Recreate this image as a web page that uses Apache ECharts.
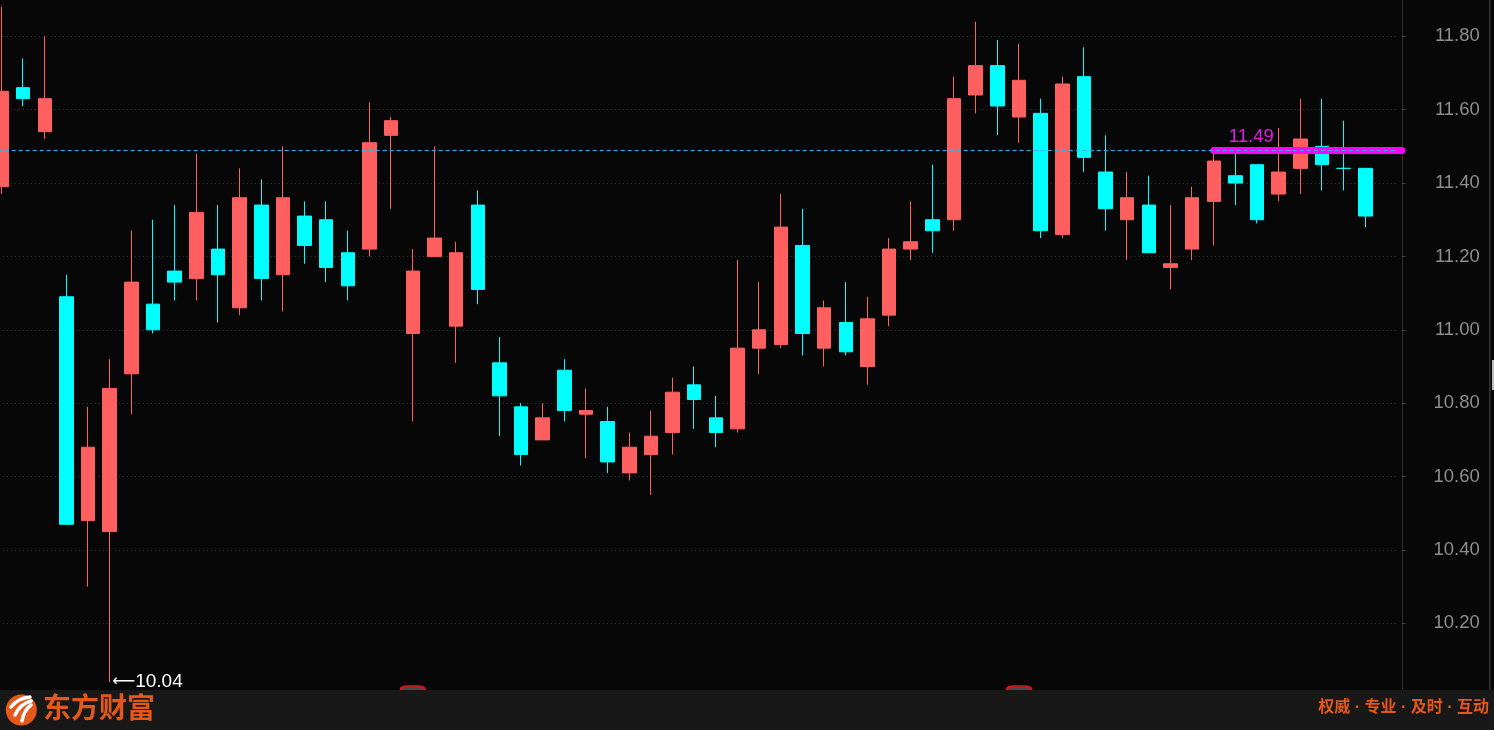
<!DOCTYPE html>
<html>
<head>
<meta charset="utf-8">
<script src="https://cdn.jsdelivr.net/npm/echarts@6/dist/echarts.min.js"></script>
<style>
html,body{margin:0;padding:0;background:#070707;}
#chart{width:1494px;height:730px;}
</style>
</head>
<body>
<div id="chart"></div>
<script>
// ---- data ----
const openPrices  = [11.39,11.66,11.54,11.09,10.48,10.45,10.88,11.07,11.16,11.14,11.22,11.06,11.34,11.15,11.31,11.30,11.21,11.22,11.53,10.99,11.20,11.01,11.34,10.91,10.79,10.70,10.89,10.77,10.75,10.61,10.66,10.72,10.85,10.76,10.73,10.95,10.96,11.23,10.95,11.02,10.90,11.04,11.22,11.30,11.30,11.64,11.72,11.58,11.59,11.26,11.69,11.43,11.30,11.34,11.17,11.22,11.35,11.42,11.45,11.37,11.44,11.50,11.44,11.44];
const closePrices = [11.65,11.63,11.63,10.47,10.68,10.84,11.13,11.00,11.13,11.32,11.15,11.36,11.14,11.36,11.23,11.17,11.12,11.51,11.57,11.16,11.25,11.21,11.11,10.82,10.66,10.76,10.78,10.78,10.64,10.68,10.71,10.83,10.81,10.72,10.95,11.00,11.28,10.99,11.06,10.94,11.03,11.22,11.24,11.27,11.63,11.72,11.61,11.68,11.27,11.67,11.47,11.33,11.36,11.21,11.18,11.36,11.46,11.40,11.30,11.43,11.52,11.45,11.44,11.31];
const lowPrices   = [11.37,11.61,11.52,10.47,10.30,10.04,10.77,10.99,11.08,11.08,11.02,11.04,11.08,11.05,11.18,11.13,11.08,11.20,11.33,10.75,11.20,10.91,11.07,10.71,10.63,10.70,10.75,10.65,10.61,10.59,10.55,10.66,10.73,10.68,10.72,10.88,10.95,10.93,10.90,10.93,10.85,11.01,11.19,11.21,11.27,11.59,11.53,11.51,11.25,11.25,11.43,11.27,11.19,11.21,11.11,11.19,11.23,11.34,11.29,11.35,11.37,11.38,11.38,11.28];
const highPrices  = [11.88,11.74,11.80,11.15,10.79,10.92,11.27,11.30,11.34,11.48,11.34,11.44,11.41,11.50,11.35,11.35,11.27,11.62,11.58,11.22,11.50,11.24,11.38,10.98,10.80,10.80,10.92,10.84,10.79,10.72,10.78,10.87,10.90,10.82,11.19,11.13,11.37,11.33,11.08,11.13,11.09,11.25,11.35,11.45,11.69,11.84,11.79,11.78,11.63,11.69,11.77,11.53,11.43,11.42,11.34,11.39,11.49,11.48,11.45,11.55,11.63,11.63,11.57,11.44];
const categories = openPrices.map((_, i) => 'K' + (i + 1)).concat(['']); // one empty slot at the right
const yTickLabels = ['10.20','10.40','10.60','10.80','11.00','11.20','11.40','11.60','11.80'];
const markedPrice = 11.49;          // horizontal drawn line
const markedLineStartIndex = 56;    // candle where the magenta line begins
const newsMarkerIndexes = [19, 47]; // small red event markers at the bottom

// ---- layout constants ----
const Y_MIN = 10.0183, Y_MAX = 11.8989;
const AXIS_OFFSET = 4;
const RED = '#ff5f5f', CYAN = '#00ffff', ORANGE = '#e5581a';
const LATIN = '"Liberation Sans", Arial, sans-serif';

const candleData = openPrices.map((o, i) => [o, closePrices[i], lowPrices[i], highPrices[i]]);

const chart = echarts.init(document.getElementById('chart'), null, {renderer: 'canvas'});

const dashedLine = {yAxis: markedPrice, lineStyle: {color: '#29b6f6', type: [4, 3], width: 1}, label: {show: false}};

const option = {
  backgroundColor: '#070707',
  animation: false,
  grid: {left: -9.32, right: 96.2, top: 0, bottom: 40, outerBoundsMode: 'none', containLabel: false},
  xAxis: {
    type: 'category',
    data: categories,
    boundaryGap: true,
    axisLine: {show: false}, axisTick: {show: false}, axisLabel: {show: false}, splitLine: {show: false}
  },
  yAxis: {
    type: 'value',
    position: 'right',
    offset: AXIS_OFFSET,
    min: Y_MIN, max: Y_MAX,
    minInterval: 0.2, maxInterval: 0.2,
    axisLine: {show: true, lineStyle: {color: '#303030', width: 1}},
    axisTick: {show: true, length: 4, lineStyle: {color: '#404040'}},
    axisLabel: {
      show: true, showMinLabel: false, showMaxLabel: false,
      align: 'right', margin: 78,
      color: '#8e8e8e', fontSize: 18.5, fontFamily: LATIN,
      formatter: v => {
        const s = v.toFixed(2);
        return yTickLabels.indexOf(s) >= 0 ? s : '';
      }
    },
    splitLine: {show: true, showMinLine: false, showMaxLine: false, lineStyle: {color: '#3e3e3e', type: [1, 3], width: 1}}
  },
  series: [{
    id: 'k',
    type: 'candlestick',
    data: candleData,
    barWidth: 14,
    large: false,
    itemStyle: {color: RED, color0: CYAN, borderColor: RED, borderColor0: CYAN, borderWidth: 1},
    markLine: {
      silent: true,
      symbol: ['none', 'none'],
      animation: false,
      data: [dashedLine]
    },
    markPoint: {
      silent: true,
      animation: false,
      data: [
        {type: 'min', valueDim: 'lowest', symbol: 'rect', symbolSize: [1, 1],
         itemStyle: {color: 'rgba(0,0,0,0)'},
         label: {show: true, position: 'right', distance: 2, color: '#ffffff', fontSize: 19,
                 fontFamily: LATIN,
                 formatter: p => '{a|⟵}' + Number(p.value).toFixed(2),
                 rich: {a: {fontFamily: 'DejaVu Sans', fontSize: 16, color: '#ffffff'}}}}
      ].concat(newsMarkerIndexes.map(i => ({
        coord: [i, Y_MIN], symbol: 'roundRect', symbolSize: [23, 10], symbolOffset: [0, 1],
        itemStyle: {color: '#4a4a4a', borderColor: '#e01010', borderWidth: 2},
        label: {show: false}
      })))
    }
  }],
  graphic: [
    {type: 'rect', z: 100, shape: {x: 1489, y: 0, width: 1.5, height: 690}, style: {fill: '#333333'}},
    {type: 'rect', z: 100, shape: {x: 1492, y: 360, width: 2, height: 30}, style: {fill: '#bdbdbd'}},
    {type: 'rect', z: 100, shape: {x: 0, y: 690, width: 1494, height: 40}, style: {fill: '#181818'}},
    {type: 'circle', z: 101, shape: {cx: 21.3, cy: 710, r: 15.5}, style: {fill: ORANGE}},
    {type: 'bezierCurve', z: 102, shape: {x1: 30, y1: 697, cpx1: 18, cpy1: 698, x2: 11, y2: 707}, style: {stroke: '#ffffff', lineWidth: 3.5, fill: null, lineCap: 'round'}},
    {type: 'bezierCurve', z: 102, shape: {x1: 31, y1: 701, cpx1: 20, cpy1: 704, x2: 15, y2: 715}, style: {stroke: '#ffffff', lineWidth: 3.5, fill: null, lineCap: 'round'}},
    {type: 'bezierCurve', z: 102, shape: {x1: 31, y1: 705, cpx1: 24, cpy1: 710, x2: 22, y2: 721}, style: {stroke: '#ffffff', lineWidth: 3.5, fill: null, lineCap: 'round'}},
    {type: 'text', z: 101, left: 43, top: 693,
     style: {text: '东方财富', fill: ORANGE, font: 'bold 28px "Noto Sans CJK SC", sans-serif'}},
    {type: 'text', z: 101, right: 5, top: 700,
     style: {text: '权威 · 专业 · 及时 · 互动', fill: ORANGE, font: 'bold 16px "Liberation Sans", "Noto Sans CJK SC", sans-serif'}}
  ]
};
chart.setOption(option);

// magenta drawn line: from the start candle to the price axis line, positioned through the chart's own scales
const pStart = chart.convertToPixel({gridIndex: 0}, [markedLineStartIndex, markedPrice]);
const nCat = categories.length;
const band = chart.convertToPixel({gridIndex: 0}, [nCat - 1, markedPrice])[0] - chart.convertToPixel({gridIndex: 0}, [nCat - 2, markedPrice])[0];
const gridRightX = chart.convertToPixel({gridIndex: 0}, [nCat - 1, markedPrice])[0] + band / 2;
const magentaStyle = {color: '#ff00ff', width: 7, type: 'solid', cap: 'round'};
const lineLabel = {show: true, position: 'insideStartTop', distance: [15, 4], formatter: markedPrice.toFixed(2),
                   color: '#e01ee0', fontSize: 18.5, fontFamily: LATIN};
chart.setOption({
  series: [{
    id: 'k',
    markLine: {
      data: [
        [
          {coord: [markedLineStartIndex, markedPrice], lineStyle: magentaStyle, label: lineLabel},
          {x: gridRightX + AXIS_OFFSET, y: pStart[1], lineStyle: magentaStyle, label: lineLabel}
        ],
        dashedLine
      ]
    }
  }]
});
</script>
</body>
</html>
